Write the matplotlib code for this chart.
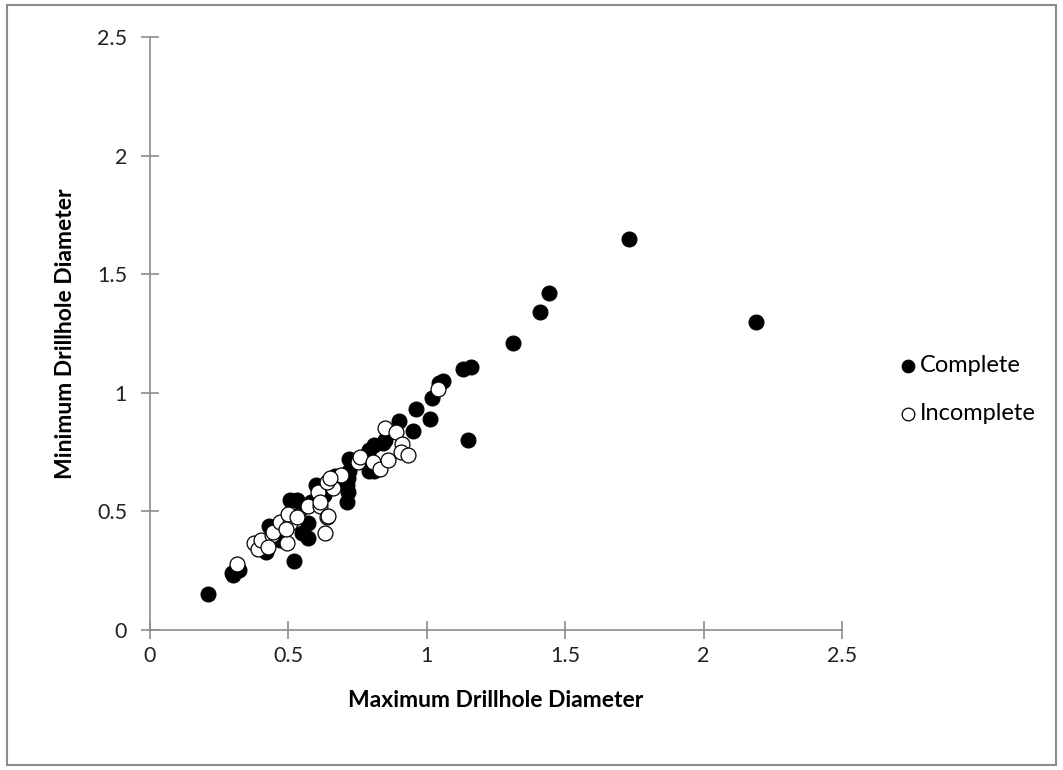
import numpy as np
import matplotlib.pyplot as plt

# drillhole diameters
complete_max = [0.21, 0.295, 0.32, 0.30, 0.42, 0.47, 0.43, 0.52, 0.55, 0.57,
                0.53, 0.505, 0.57, 0.60, 0.64, 0.71, 0.715, 0.71, 0.715, 0.72,
                0.72, 0.79, 0.81, 0.79, 0.81, 0.84, 0.85, 0.78, 0.90, 0.95,
                0.96, 1.01, 1.02, 1.045, 1.06, 1.13, 1.16, 1.15, 1.31, 1.41,
                1.44, 1.73, 2.19, 0.45, 0.49, 0.55, 0.63, 0.67, 0.68, 0.58]
complete_min = [0.15, 0.24, 0.255, 0.23, 0.33, 0.38, 0.44, 0.29, 0.41, 0.39,
                0.55, 0.55, 0.45, 0.61, 0.62, 0.54, 0.58, 0.61, 0.64, 0.67,
                0.72, 0.67, 0.67, 0.76, 0.78, 0.79, 0.80, 0.71, 0.88, 0.84,
                0.93, 0.89, 0.98, 1.04, 1.05, 1.10, 1.11, 0.80, 1.21, 1.34,
                1.42, 1.65, 1.30, 0.42, 0.46, 0.52, 0.57, 0.65, 0.63, 0.54]

incomplete_max = [0.313, 0.375, 0.39, 0.40, 0.44, 0.445, 0.47, 0.505, 0.495,
                  0.535, 0.50, 0.57, 0.614, 0.53, 0.632, 0.638, 0.644, 0.608,
                  0.614, 0.66, 0.638, 0.69, 0.65, 0.752, 0.758, 0.806, 0.83,
                  0.86, 0.85, 0.89, 0.91, 0.906, 0.933, 1.04, 0.493, 0.427]
incomplete_min = [0.28, 0.365, 0.34, 0.38, 0.40, 0.415, 0.455, 0.45, 0.365,
                  0.48, 0.49, 0.525, 0.525, 0.475, 0.41, 0.475, 0.48, 0.582,
                  0.54, 0.60, 0.624, 0.652, 0.64, 0.71, 0.73, 0.71, 0.68,
                  0.715, 0.85, 0.835, 0.785, 0.75, 0.737, 1.015, 0.428, 0.351]

tick_vals = [0, 0.5, 1, 1.5, 2, 2.5]
tick_text = ['0', '0.5', '1', '1.5', '2', '2.5']

plt.rcParams['font.family'] = ['Lato', 'DejaVu Sans']
axis_grey = '#8c8c8c'

fig = plt.figure(figsize=(10.63, 7.70), dpi=100)
ax = fig.add_axes([0.1411, 0.1818, 0.651, 0.770])

ax.scatter(complete_max, complete_min, s=115, c='black', edgecolors='black',
           linewidths=0.8, label='Complete', zorder=3)
ax.scatter(incomplete_max, incomplete_min, s=115, c='white', edgecolors='black',
           linewidths=0.9, label='Incomplete', zorder=4)

ax.set_xlim(0, 2.5)
ax.set_ylim(0, 2.5)
ax.set_xticks(tick_vals)
ax.set_yticks(tick_vals)
ax.set_xticklabels(tick_text)
ax.set_yticklabels(tick_text)
for side in ['top', 'right']:
    ax.spines[side].set_visible(False)
for side in ['left', 'bottom']:
    ax.spines[side].set_color(axis_grey)
    ax.spines[side].set_linewidth(1.2)
ax.tick_params(direction='inout', length=13, width=1.2, color=axis_grey,
               labelsize=15.5, labelcolor='#222222')
ax.tick_params(axis='y', pad=10)
ax.tick_params(axis='x', pad=5)
ax.set_xlabel('Maximum Drillhole Diameter', fontsize=16.5, fontweight='bold',
              labelpad=17)
ax.set_ylabel('Minimum Drillhole Diameter', fontsize=16.5, fontweight='bold',
              labelpad=15)

leg = ax.legend(loc='center left', bbox_to_anchor=(1.047, 0.405), frameon=False,
                fontsize=17, markerscale=0.85, handletextpad=0.0,
                labelspacing=1.15, handlelength=1.0)

# outer chart border
fig.patches.append(plt.Rectangle((0.007, 0.006), 0.986, 0.988,
                                 transform=fig.transFigure, fill=False,
                                 edgecolor=axis_grey, linewidth=1.5))

fig.savefig('out.png', dpi=100)
